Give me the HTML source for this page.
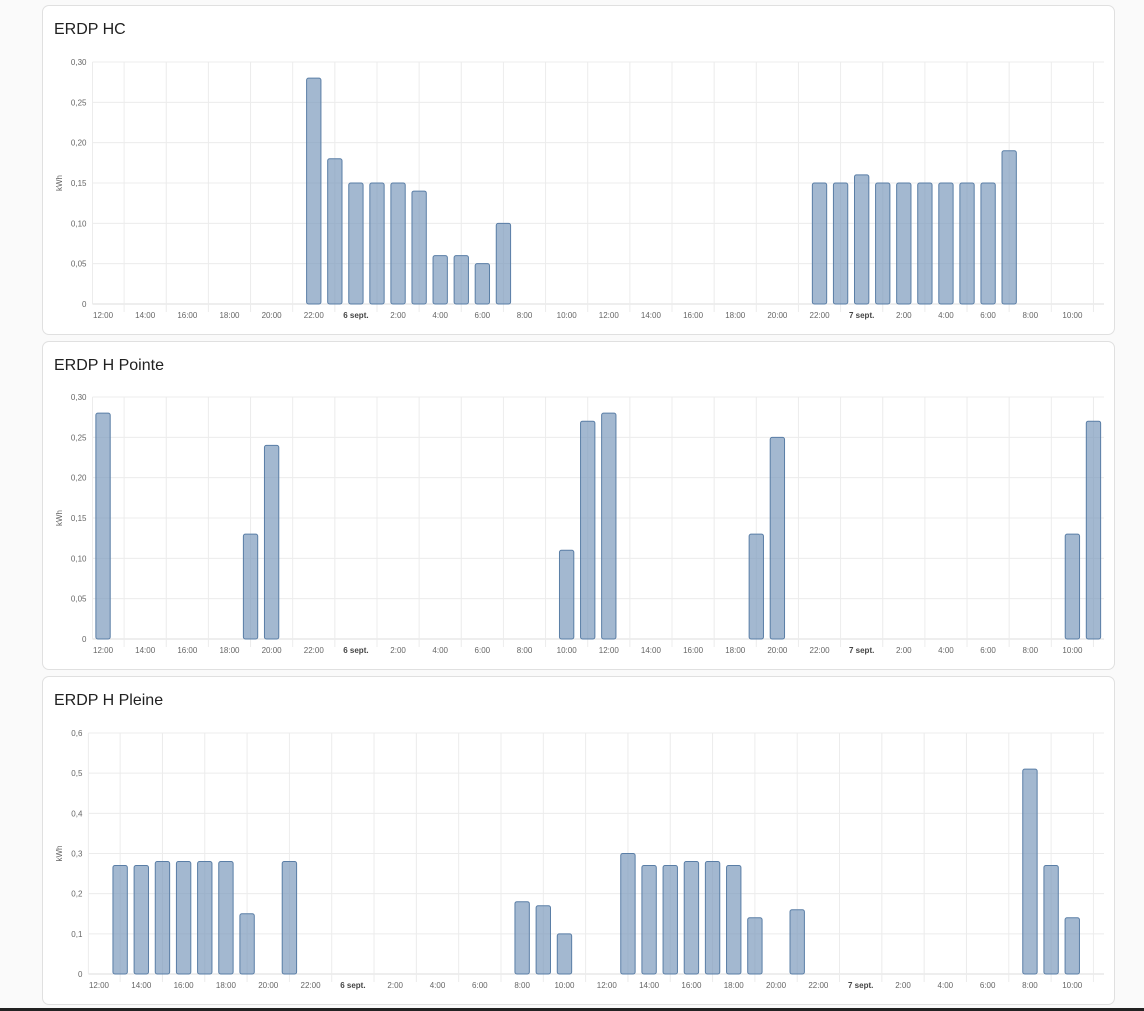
<!DOCTYPE html>
<html><head><meta charset="utf-8">
<style>
html,body{margin:0;padding:0;width:1144px;height:1011px;overflow:hidden;background:#fafafa;font-family:"Liberation Sans",sans-serif;}
.card{position:absolute;left:42px;width:1073px;background:#fff;border:1px solid #e0e0e0;border-radius:7px;box-sizing:border-box;}
.title{position:absolute;left:11px;top:15px;font-size:16px;color:#212121;}
svg{position:absolute;left:0;top:0;}
.bottombar{position:absolute;left:0;top:1008px;width:1144px;height:3px;background:#222;}
</style></head><body>
<div class="card" style="top:5px;height:330px;"><div class="title">ERDP HC</div></div>
<div class="card" style="top:341px;height:329px;"><div class="title">ERDP H Pointe</div></div>
<div class="card" style="top:676px;height:329px;"><div class="title">ERDP H Pleine</div></div>
<svg id="svg" width="1144" height="1011"></svg>
<div class="bottombar"></div>
<script>
// x categories: hours since 12:00 on day 1 (0..47)
const xTickHours = [0,2,4,6,8,10,12,14,16,18,20,22,24,26,28,30,32,34,36,38,40,42,44,46];
const xTickLabels = ["12:00","14:00","16:00","18:00","20:00","22:00","6 sept.","2:00","4:00","6:00","8:00","10:00","12:00","14:00","16:00","18:00","20:00","22:00","7 sept.","2:00","4:00","6:00","8:00","10:00"];
const hcHours = [10,11,12,13,14,15,16,17,18,19,34,35,36,37,38,39,40,41,42,43];
const hcValues = [0.28,0.18,0.15,0.15,0.15,0.14,0.06,0.06,0.05,0.10,0.15,0.15,0.16,0.15,0.15,0.15,0.15,0.15,0.15,0.19];
const pointeHours = [0,7,8,22,23,24,31,32,46,47];
const pointeValues = [0.28,0.13,0.24,0.11,0.27,0.28,0.13,0.25,0.13,0.27];
const pleineHours = [1,2,3,4,5,6,7,9,20,21,22,25,26,27,28,29,30,31,33,44,45,46];
const pleineValues = [0.27,0.27,0.28,0.28,0.28,0.28,0.15,0.28,0.18,0.17,0.10,0.30,0.27,0.27,0.28,0.28,0.27,0.14,0.16,0.51,0.27,0.14];
const ticks1 = [0,0.05,0.10,0.15,0.20,0.25,0.30];
const tickLabels1 = ["0","0,05","0,10","0,15","0,20","0,25","0,30"];
const ticks3 = [0,0.1,0.2,0.3,0.4,0.5,0.6];
const tickLabels3 = ["0","0,1","0,2","0,3","0,4","0,5","0,6"];

const NS="http://www.w3.org/2000/svg";
const svg=document.getElementById('svg');
function mk(tag,attrs,parent){const e=document.createElementNS(NS,tag);for(const k in attrs)e.setAttribute(k,attrs[k]);(parent||svg).appendChild(e);return e;}

function chart(cfg){
  const g=mk('g',{});
  
  
  const L=cfg.left,R=1104,T=cfg.top,B=cfg.bottom,ymax=cfg.ymax;
  const bw=(R-L)/48;
  const x=h=>L+(h+0.5)*bw;
  const y=v=>B-(v/ymax)*(B-T);
  // horizontal grid + y ticks
  cfg.ticks.forEach((t,i)=>{
    const gl=mk('line',{x1:L,x2:R,y1:y(t),y2:y(t),stroke:i==0?'#ddd':'#ececec','stroke-width':1},g);
    
    
    const tl=mk('text',{x:L-6,y:y(t)+3,'font-size':8,fill:'#666','text-anchor':'end'},g);
    tl.textContent=cfg.tickLabels[i];
    
    
  });
  // vertical grid at odd hours
  for(let h=1;h<48;h+=2){
    const vl=mk('line',{x1:x(h),x2:x(h),y1:T,y2:B+8,stroke:'#ececec','stroke-width':1},g);
    
    
  }
  mk('line',{x1:L,x2:L,y1:T,y2:B,stroke:'#ececec'},g);
  xTickHours.forEach((h,i)=>{
    const lab=xTickLabels[i];
    const t=mk('text',{x:x(h),y:B+14,'font-size':8,fill:lab.indexOf('sept')>=0?'#444':'#666','font-weight':lab.indexOf('sept')>=0?'bold':'normal','text-anchor':'middle'},g);
    t.textContent=lab;
    
    
  });
  const yl=mk('text',{x:0,y:0,'font-size':8,fill:'#666','text-anchor':'middle',transform:`translate(${cfg.ylabelX},${(T+B)/2}) rotate(-90)`},g);
  yl.textContent='kWh';
  
  
  cfg.hours.forEach((h,i)=>{
    const v=cfg.values[i];
    const w=bw*0.68;
    const r=mk('rect',{x:x(h)-w/2,y:y(v),width:w,height:B-y(v),rx:2,fill:'rgba(120,150,185,0.68)',stroke:'#5a7ea6','stroke-width':1},g);
    
    
  });
}
chart({name:'chart-erdp-hc',left:92.5,top:62,bottom:304,ymax:0.30,ticks:ticks1,tickLabels:tickLabels1,hours:hcHours,values:hcValues,ylabelX:62});
chart({name:'chart-erdp-h-pointe',left:92.5,top:397,bottom:639,ymax:0.30,ticks:ticks1,tickLabels:tickLabels1,hours:pointeHours,values:pointeValues,ylabelX:62});
chart({name:'chart-erdp-h-pleine',left:88.4,top:733,bottom:974,ymax:0.6,ticks:ticks3,tickLabels:tickLabels3,hours:pleineHours,values:pleineValues,ylabelX:62});
</script>
</body></html>
